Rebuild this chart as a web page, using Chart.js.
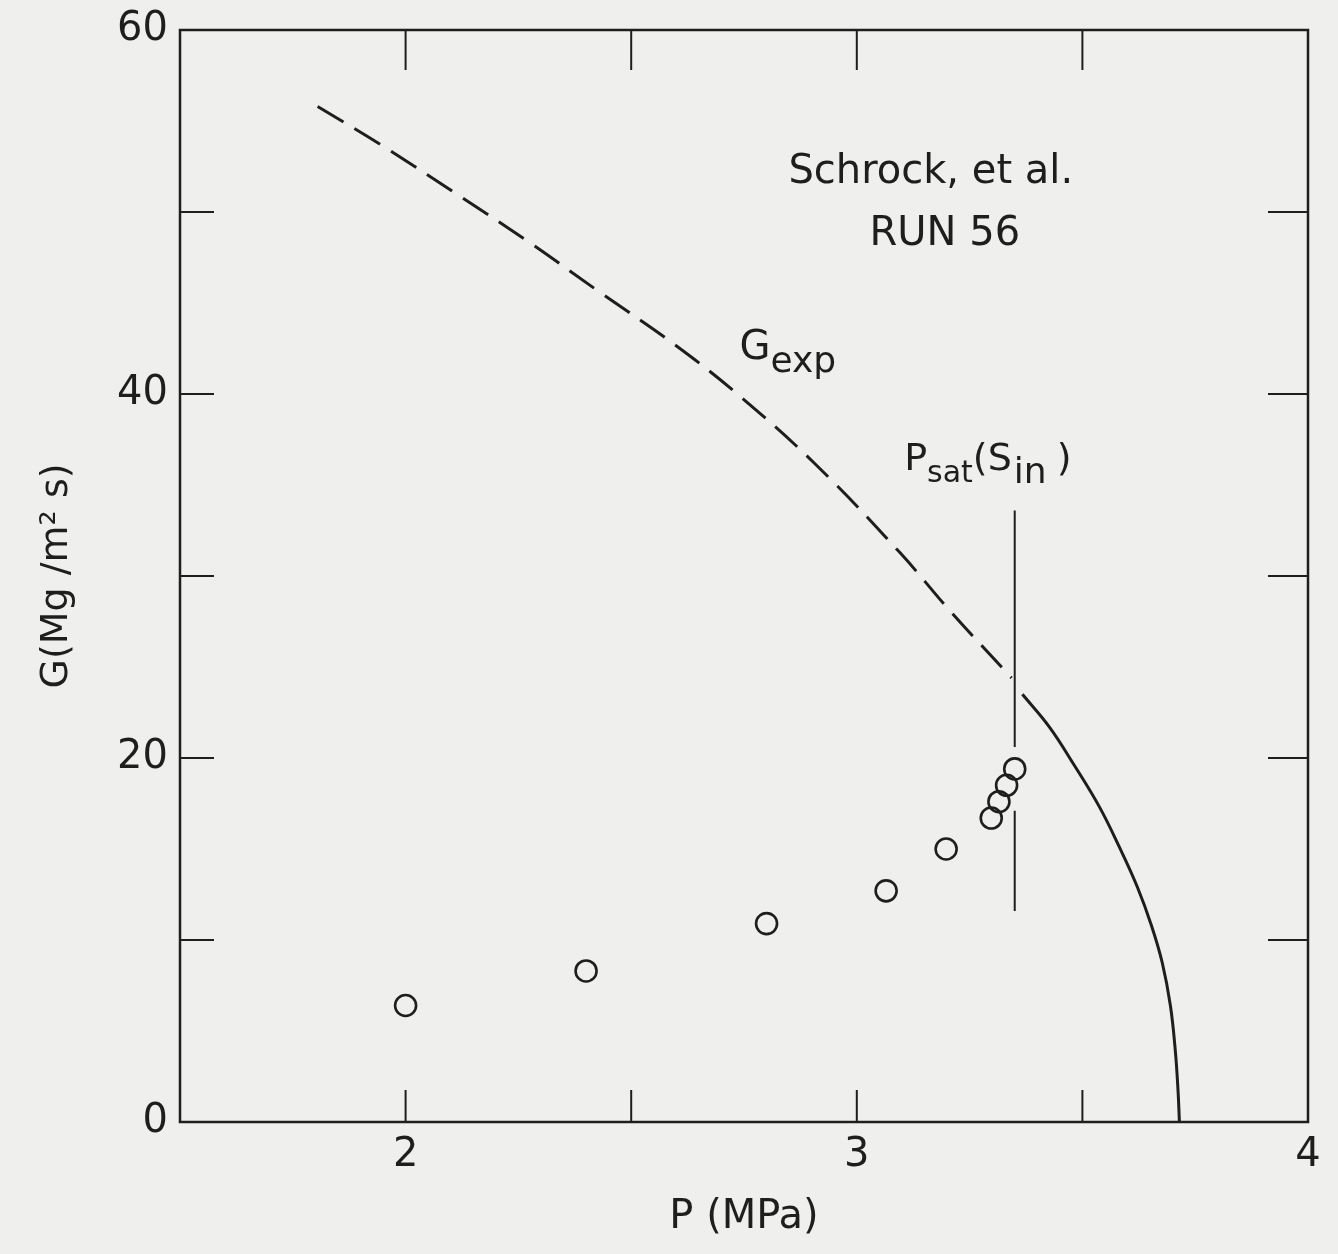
<!DOCTYPE html>
<html>
<head>
<meta charset="utf-8">
<script src="https://cdn.jsdelivr.net/npm/chart.js@4.4.1/dist/chart.umd.min.js"></script>
<style>
  html, body { margin: 0; padding: 0; background: #efefee; }
  #wrap { width: 1338px; height: 1254px; position: relative; }
</style>
</head>
<body>
<div id="wrap"><canvas id="chart"></canvas></div>
<script>
// ---- data (P in MPa, G in Mg/m2s) ----
const measuredP = [2.0, 2.40, 2.80, 3.065, 3.198, 3.298, 3.315, 3.332, 3.35];
const measuredG = [6.4, 8.3, 10.9, 12.7, 15.0, 16.7, 17.6, 18.5, 19.4];

const expDashP = [1.805, 1.945, 2.106, 2.27, 2.43, 2.597, 2.74, 2.91, 3.095, 3.206, 3.343];
const expDashG = [55.8, 53.7, 51.1, 48.4, 45.6, 42.7, 39.9, 36.1, 31.3, 28.1, 24.4];

const expSolidP = [3.367, 3.427, 3.482, 3.538, 3.582, 3.622, 3.653, 3.677, 3.695, 3.706, 3.712, 3.715];
const expSolidG = [23.5, 21.7, 19.6, 17.3, 15.1, 12.9, 10.8, 8.75, 6.4, 3.9, 1.7, 0];

// P_sat(S_in) marker line, drawn in two pieces around the data points
const psatP = 3.35;
const psatUpper = [33.6, 20.6];
const psatLower = [17.1, 11.6];

const xTicks = [1.5, 2, 2.5, 3, 3.5, 4];
const yTicks = [0, 10, 20, 30, 40, 50, 60];

const INK = '#1e1e1e';
const FONT = '"DejaVu Sans", sans-serif';

const pts = (xs, ys) => xs.map((x, i) => ({ x, y: ys[i] }));

// ===== frame, inward ticks and text annotations =====
const paperPlugin = {
  id: 'paper',
  beforeDraw(chart) {
    const c = chart.ctx;
    c.save();
    c.fillStyle = '#efefee';
    c.fillRect(0, 0, chart.width, chart.height);
    c.restore();
  },
  afterDatasetsDraw(chart) {
    const c = chart.ctx;
    const a = chart.chartArea;
    const sx = chart.scales.x, sy = chart.scales.y;
    c.save();
    c.strokeStyle = INK;
    c.lineWidth = 2.5;
    c.strokeRect(a.left, a.top, a.right - a.left, a.bottom - a.top);

    c.lineWidth = 2;
    c.beginPath();
    xTicks.slice(1, -1).forEach(v => {
      const px = sx.getPixelForValue(v);
      c.moveTo(px, a.bottom); c.lineTo(px, a.bottom - 32);
      c.moveTo(px, a.top); c.lineTo(px, a.top + 40);
    });
    yTicks.slice(1, -1).forEach(v => {
      const py = sy.getPixelForValue(v);
      c.moveTo(a.left, py); c.lineTo(a.left + 34, py);
      c.moveTo(a.right, py); c.lineTo(a.right - 40, py);
    });
    c.stroke();

    // text
    c.fillStyle = INK;
    c.textBaseline = 'alphabetic';
    c.font = `40px ${FONT}`;
    c.textAlign = 'center';
    c.fillText('Schrock, et al.', sx.getPixelForValue(3.164), sy.getPixelForValue(51.6));
    c.fillText('RUN 56', sx.getPixelForValue(3.195), sy.getPixelForValue(48.2));

    c.textAlign = 'left';
    // G_exp
    let x = sx.getPixelForValue(2.74);
    let base = sy.getPixelForValue(41.9);
    c.font = `40px ${FONT}`;
    c.fillText('G', x, base);
    x += c.measureText('G').width;
    c.font = `36px ${FONT}`;
    c.fillText('exp', x, base + 13);

    // P_sat(S_in )
    x = sx.getPixelForValue(3.105);
    base = sy.getPixelForValue(35.8);
    c.font = `38px ${FONT}`;
    c.fillText('P', x, base);
    x += c.measureText('P').width;
    c.font = `30px ${FONT}`;
    c.fillText('sat', x, base + 12);
    x += c.measureText('sat').width;
    c.font = `38px ${FONT}`;
    c.fillText('(S', x, base);
    x += c.measureText('(S').width + 2;
    c.font = `36px ${FONT}`;
    c.fillText('in', x, base + 13);
    x += c.measureText('in').width + 10;
    c.font = `38px ${FONT}`;
    c.fillText(')', x, base);
    c.restore();
  }
};

new Chart(document.getElementById('chart'), {
  type: 'scatter',
  data: {
    datasets: [
      {
        label: 'G exp (dashed)',
        data: pts(expDashP, expDashG),
        showLine: true,
        borderColor: INK,
        borderWidth: 3,
        borderDash: [30, 13],
        pointRadius: 0,
        tension: 0.4
      },
      {
        label: 'G exp (solid)',
        data: pts(expSolidP, expSolidG),
        showLine: true,
        borderColor: INK,
        borderWidth: 3,
        pointRadius: 0,
        tension: 0.4
      },
      {
        label: 'Psat upper',
        data: psatUpper.map(y => ({ x: psatP, y })),
        showLine: true,
        borderColor: INK,
        borderWidth: 2,
        pointRadius: 0
      },
      {
        label: 'Psat lower',
        data: psatLower.map(y => ({ x: psatP, y })),
        showLine: true,
        borderColor: INK,
        borderWidth: 2,
        pointRadius: 0
      },
      {
        label: 'Data',
        data: pts(measuredP, measuredG),
        pointStyle: 'circle',
        pointRadius: 10.5,
        pointBorderWidth: 2.6,
        borderColor: INK,
        backgroundColor: 'rgba(0,0,0,0)'
      }
    ]
  },
  options: {
    responsive: true,
    maintainAspectRatio: false,
    animation: false,
    layout: { padding: { left: 30, right: 30, top: 30, bottom: 8 } },
    plugins: { legend: { display: false }, tooltip: { enabled: false } },
    scales: {
      x: {
        type: 'linear',
        min: 1.5, max: 4,
        afterBuildTicks: s => { s.ticks = xTicks.map(v => ({ value: v })); },
        afterFit: s => { s.height = 124; s.paddingLeft = 0; s.paddingRight = 0; },
        grid: { display: false, drawTicks: false },
        border: { display: false },
        ticks: {
          color: INK,
          font: { family: FONT, size: 40 },
          padding: 10,
          maxRotation: 0,
          callback: v => Number.isInteger(v) ? String(v) : ''
        },
        title: {
          display: true,
          text: 'P (MPa)',
          color: INK,
          font: { family: FONT, size: 40 },
          padding: { top: 4, bottom: 4 }
        }
      },
      y: {
        type: 'linear',
        min: 0, max: 60,
        afterBuildTicks: s => { s.ticks = yTicks.map(v => ({ value: v })); },
        afterFit: s => { s.width = 150; s.paddingTop = 0; s.paddingBottom = 0; },
        grid: { display: false, drawTicks: false },
        border: { display: false },
        ticks: {
          color: INK,
          font: { family: FONT, size: 40 },
          padding: 12,
          callback: v => v % 20 === 0 ? String(v) : ''
        },
        title: {
          display: true,
          text: 'G(Mg /m² s)',
          color: INK,
          font: { family: FONT, size: 38 },
          padding: { top: 4, bottom: 4 }
        }
      }
    }
  },
  plugins: [paperPlugin]
});
</script>
</body>
</html>
